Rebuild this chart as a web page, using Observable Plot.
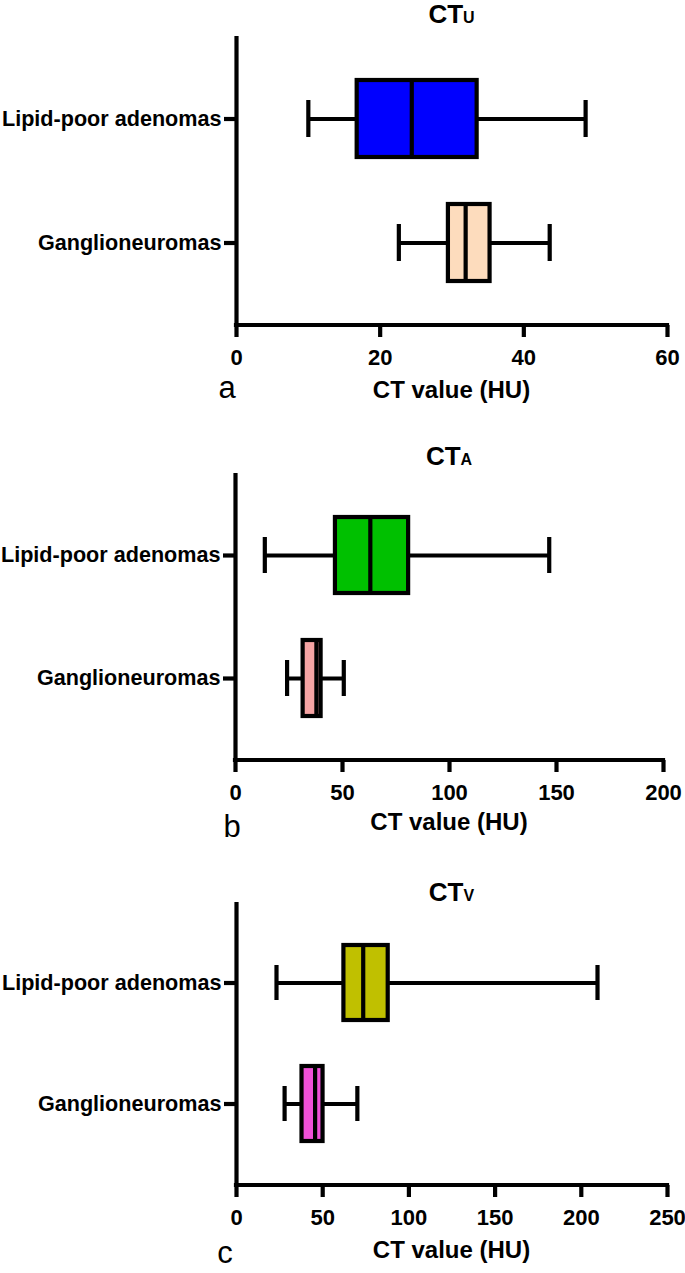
<!DOCTYPE html>
<html>
<head>
<meta charset="utf-8">
<script src="https://cdn.jsdelivr.net/npm/d3@7"></script>
<script src="https://cdn.jsdelivr.net/npm/@observablehq/plot@0.6"></script>
<style>
  html, body { margin: 0; padding: 0; background: #fff; }
  #root { position: relative; width: 685px; height: 1273px; overflow: hidden; background: #fff; }
  .panel { position: absolute; left: 0; }
  .panel svg { font-family: "Liberation Sans", Arial, sans-serif; }
</style>
</head>
<body>
<div id="root"></div>
<script>
// ---- data ----
const categories = ["Lipid-poor adenomas", "Ganglioneuromas"];

// CT_U (unenhanced)
const ctuLow    = [10.0, 22.6];
const ctuQ1     = [16.8, 29.5];
const ctuMedian = [24.4, 31.9];
const ctuQ3     = [33.5, 35.3];
const ctuHigh   = [48.6, 43.6];
const ctuTicks  = [0, 20, 40, 60];

// CT_A (arterial)
const ctaLow    = [13.7, 24.1];
const ctaQ1     = [46.7, 31.6];
const ctaMedian = [63.0, 37.8];
const ctaQ3     = [80.9, 40.0];
const ctaHigh   = [146.6, 50.6];
const ctaTicks  = [0, 50, 100, 150, 200];

// CT_V (venous)
const ctvLow    = [23.2, 27.9];
const ctvQ1     = [62.3, 38.0];
const ctvMedian = [73.5, 45.6];
const ctvQ3     = [88.0, 50.2];
const ctvHigh   = [209.4, 70.1];
const ctvTicks  = [0, 50, 100, 150, 200, 250];

const xLabel = "CT value (HU)";

// ---- styles / layout ----
const FONT = '"Liberation Sans", Arial, sans-serif';
const SW = 4.2;

function rowsOf(low, q1, med, q3, high) {
  return categories.map((c, i) => ({cat: c, low: low[i], q1: q1[i], median: med[i], q3: q3[i], high: high[i]}));
}

function panel(cfg) {
  const rows = rowsOf(...cfg.stats);
  const xmax = cfg.ticks[cfg.ticks.length - 1];
  const chart = Plot.plot({
    width: 685,
    height: cfg.height,
    marginTop: cfg.mt,
    marginBottom: cfg.mb,
    marginLeft: cfg.ml,
    marginRight: cfg.mr,
    style: {fontFamily: FONT, background: "transparent", color: "#000", overflow: "visible"},
    x: {domain: [0, xmax], axis: null},
    y: {type: "band", domain: categories, paddingInner: 0.38, paddingOuter: 0.355, axis: null},
    color: {domain: categories, range: cfg.colors},
    marks: [
      Plot.ruleX([0], {stroke: "#000", strokeWidth: SW}),
      Plot.ruleY(rows, {y: "cat", x1: "low", x2: "high", stroke: "#000", strokeWidth: SW}),
      Plot.tickX(rows, {y: "cat", x: "low", stroke: "#000", strokeWidth: SW, insetTop: 20, insetBottom: 20}),
      Plot.tickX(rows, {y: "cat", x: "high", stroke: "#000", strokeWidth: SW, insetTop: 20, insetBottom: 20}),
      Plot.barX(rows, {y: "cat", x1: "q1", x2: "q3", fill: "cat", stroke: "#000", strokeWidth: SW}),
      Plot.tickX(rows, {y: "cat", x: "median", stroke: "#000", strokeWidth: SW}),
      Plot.axisX({ticks: cfg.ticks, tickFormat: d => String(d), tickSize: 12, tickPadding: 12,
                  fontSize: 22, fontWeight: "bold", strokeWidth: SW, label: null}),
      Plot.axisY({tickSize: 12, tickPadding: 3, fontSize: 21.6, fontWeight: "bold",
                  strokeWidth: SW, label: null})
    ]
  });

  const svg = d3.select(chart);
  svg.selectAll("text").style("font-weight", "bold");
  const xs = chart.scale("x");
  const yBottom = cfg.height - cfg.mb;
  // x axis baseline
  svg.append("line")
    .attr("x1", xs.apply(0) - SW / 2).attr("x2", xs.apply(xmax) + SW / 2)
    .attr("y1", yBottom).attr("y2", yBottom)
    .attr("stroke", "#000").attr("stroke-width", SW);

  const cx = (cfg.ml + 685 - cfg.mr) / 2;
  // title with subscript
  const t = svg.append("text")
    .attr("x", cx).attr("y", cfg.titleY)
    .attr("text-anchor", "middle")
    .style("font-family", FONT).style("font-weight", "bold").style("font-size", "26px")
    .attr("fill", "#000");
  t.append("tspan").text("CT");
  t.append("tspan").style("font-size", "16px").text(cfg.sub);
  // x label
  svg.append("text")
    .attr("x", cx).attr("y", cfg.labelY)
    .attr("text-anchor", "middle")
    .style("font-family", FONT).style("font-weight", "bold").style("font-size", "24px")
    .attr("fill", "#000")
    .text(xLabel);
  // panel letter
  svg.append("text")
    .attr("x", cfg.letterX).attr("y", cfg.letterY)
    .style("font-family", FONT).style("font-weight", "normal").style("font-size", "31px")
    .attr("fill", "#000")
    .text(cfg.letter);

  const div = document.createElement("div");
  div.className = "panel";
  div.style.top = cfg.top + "px";
  div.appendChild(chart);
  document.getElementById("root").appendChild(div);
}

panel({top: 0, height: 420, mt: 36, mb: 95, ml: 236, mr: 18,
  stats: [ctuLow, ctuQ1, ctuMedian, ctuQ3, ctuHigh], ticks: ctuTicks,
  colors: ["#0000ff", "#fddcbd"], sub: "U", letter: "a",
  titleY: 23, labelY: 398, letterX: 227, letterY: 398});

panel({top: 420, height: 425, mt: 53, mb: 85, ml: 235, mr: 22,
  stats: [ctaLow, ctaQ1, ctaMedian, ctaQ3, ctaHigh], ticks: ctaTicks,
  colors: ["#00c000", "#f5a3a3"], sub: "A", letter: "b",
  titleY: 45, labelY: 410, letterX: 232, letterY: 417});

panel({top: 840, height: 433, mt: 62, mb: 88, ml: 236, mr: 18,
  stats: [ctvLow, ctvQ1, ctvMedian, ctvQ3, ctvHigh], ticks: ctvTicks,
  colors: ["#c0c000", "#f050d8"], sub: "V", letter: "c",
  titleY: 61, labelY: 418, letterX: 225, letterY: 423});
</script>
</body>
</html>
